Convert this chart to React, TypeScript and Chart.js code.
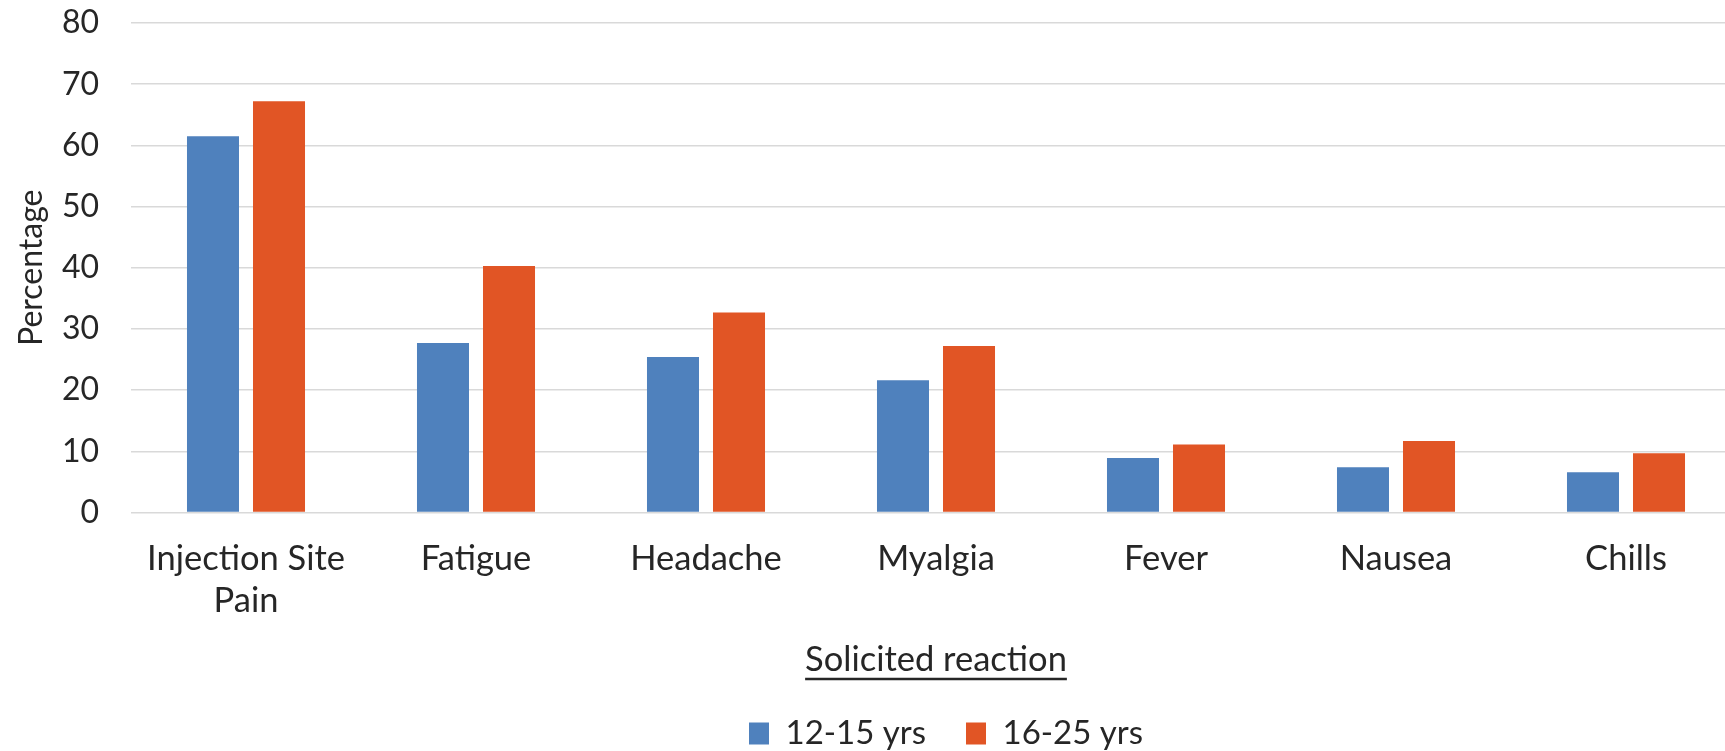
import React, { useEffect, useRef } from "react";
import { Chart, registerables } from "chart.js";

Chart.register(...registerables);

const categories: (string | string[])[] = [
  ["Injection Site", "Pain"],
  "Fatigue",
  "Headache",
  "Myalgia",
  "Fever",
  "Nausea",
  "Chills",
];
const seriesALabel = "12-15 yrs";
const seriesBLabel = "16-25 yrs";
const seriesA = [61.5, 27.7, 25.4, 21.6, 8.9, 7.4, 6.6];
const seriesB = [67.2, 40.3, 32.7, 27.2, 11.1, 11.7, 9.7];
const yTicks = [0, 10, 20, 30, 40, 50, 60, 70, 80];
const xTitle = "Solicited reaction";
const yTitle = "Percentage";

const FONT = "Lato, 'Open Sans', sans-serif";
const TEXT = "#262626";
const BLUE = "#4F81BD";
const ORANGE = "#E15525";
const GRID = "#D9D9D9";

const X_TITLE_SIZE = 34.5;
const X_TITLE_LH = 1.0;
const X_TITLE_PB = 0;

const underlinePlugin = {
  id: "xTitleUnderline",
  afterDraw(chart: any) {
    const s = chart.scales.x;
    if (!s) return;
    const ctx = chart.ctx;
    ctx.save();
    ctx.font = `${X_TITLE_SIZE}px ${FONT}`;
    const w = ctx.measureText(xTitle).width;
    const cx = (s.left + s.right) / 2;
    const cy = s.bottom - (X_TITLE_SIZE * X_TITLE_LH) / 2 - X_TITLE_PB;
    ctx.fillStyle = TEXT;
    ctx.fillRect(cx - w / 2, cy + 18, w, 2.5);
    ctx.restore();
  },
};

export default function App() {
  const ref = useRef<HTMLCanvasElement | null>(null);

  useEffect(() => {
    if (!ref.current) return;
    const chart = new Chart(ref.current, {
      type: "bar",
      data: {
        labels: categories,
        datasets: [
          {
            label: seriesALabel,
            data: seriesA,
            backgroundColor: BLUE,
            barPercentage: 0.788,
            categoryPercentage: 0.574,
          },
          {
            label: seriesBLabel,
            data: seriesB,
            backgroundColor: ORANGE,
            barPercentage: 0.788,
            categoryPercentage: 0.574,
          },
        ],
      },
      options: {
        animation: false,
        responsive: false,
        maintainAspectRatio: false,
        layout: { padding: { top: 23, left: 0, right: 0, bottom: 0 } },
        plugins: {
          tooltip: { enabled: false },
          legend: {
            position: "bottom",
            labels: {
              boxWidth: 20,
              boxHeight: 22,
              padding: 40,
              color: TEXT,
              font: { family: FONT, size: 33 },
            },
          },
        },
        scales: {
          x: {
            grid: { display: false, drawTicks: false },
            border: { display: false },
            ticks: {
              color: TEXT,
              padding: 25,
              maxRotation: 0,
              autoSkip: false,
              font: { family: FONT, size: 34.5, lineHeight: 1.217 },
            },
            title: {
              display: true,
              text: xTitle,
              color: TEXT,
              padding: { top: -4, bottom: X_TITLE_PB },
              font: { family: FONT, size: X_TITLE_SIZE, lineHeight: X_TITLE_LH },
            },
          },
          y: {
            min: yTicks[0],
            max: yTicks[yTicks.length - 1],
            grid: {
              color: GRID,
              lineWidth: 1.5,
              drawTicks: true,
              tickLength: 32,
              tickColor: "rgba(0,0,0,0)",
            },
            border: { display: false },
            ticks: {
              stepSize: yTicks[1] - yTicks[0],
              color: TEXT,
              padding: 0,
              font: { family: FONT, size: 32 },
            },
            title: {
              display: true,
              text: yTitle,
              color: TEXT,
              padding: { top: 12, bottom: 0 },
              font: { family: FONT, size: 32, lineHeight: 1.2 },
            },
            afterFit: (s: any) => {
              s.width = 131;
            },
          },
          yRight: {
            position: "right",
            grid: { display: false, drawTicks: false },
            border: { display: false },
            ticks: { display: false },
            afterFit: (s: any) => {
              s.width = 151;
            },
          },
        },
      },
      plugins: [underlinePlugin],
    });
    return () => chart.destroy();
  }, []);

  return (
    <div
      style={{
        position: "fixed",
        left: 0,
        top: 0,
        width: 1725,
        height: 751,
        overflow: "hidden",
        background: "#fff",
      }}
    >
      <canvas ref={ref} width={1892} height={760} style={{ display: "block" }} />
    </div>
  );
}
